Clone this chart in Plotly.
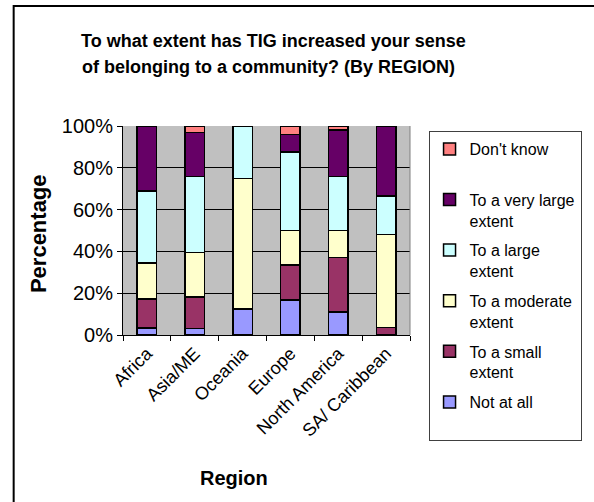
import plotly.graph_objects as go

# Survey results by region (percent of respondents)
regions = ["Africa", "Asia/ME", "Oceania", "Europe", "North America", "SA/ Caribbean"]
not_at_all = [3.4, 3.0, 12.5, 16.7, 11.1, 0.0]
small_extent = [13.8, 15.2, 0.0, 16.7, 25.9, 3.7]
moderate_extent = [17.2, 21.2, 62.5, 16.7, 13.0, 44.4]
large_extent = [34.5, 36.4, 25.0, 37.5, 25.9, 18.5]
very_large_extent = [31.0, 21.2, 0.0, 8.3, 22.2, 33.3]
dont_know = [0.0, 3.0, 0.0, 4.2, 1.9, 0.0]

y_ticks = [0, 20, 40, 60, 80, 100]
y_tick_labels = ["0%", "20%", "40%", "60%", "80%", "100%"]

series = [
    ("Not at all<br>&nbsp;", not_at_all, "#9999FF"),
    ("To a small<br>extent", small_extent, "#993366"),
    ("To a moderate<br>extent", moderate_extent, "#FFFFCC"),
    ("To a large<br>extent", large_extent, "#CCFFFF"),
    ("To a very large<br>extent", very_large_extent, "#660066"),
    ("Don't know<br>&nbsp;", dont_know, "#FF8080"),
]

FONT = "Liberation Sans, Arial, sans-serif"

fig = go.Figure()
for i, (name, vals, color) in enumerate(series):
    fig.add_trace(go.Bar(
        x=regions, y=vals, name=name, legendgroup=f"g{i}",
        legendrank=len(series) - i,  # top of the stack listed first
        marker=dict(color=color, line=dict(color="black", width=1.5)),
    ))

# plot area in pixels: x 123..417, y 126..335
L, R, T, B = 123, 417, 126, 335
W, H = 594, 502


def px(x):
    return (x - L) / (R - L)


def py(y):
    return (B - y) / (B - T)


shapes = [
    # outer chart frame
    dict(type="rect", xref="paper", yref="paper",
         x0=px(11), x1=px(620), y0=py(6), y1=py(530),
         line=dict(color="black", width=2), fillcolor="rgba(0,0,0,0)", layer="below"),
    # plot area right border
    dict(type="line", xref="paper", yref="paper",
         x0=1, x1=1, y0=0, y1=1, line=dict(color="#808080", width=1)),
]

annotations = [
    dict(text="<b>To what extent has TIG increased your sense</b>",
         x=px(277), y=py(41), xref="paper", yref="paper", showarrow=False,
         xanchor="center", yanchor="middle", font=dict(size=18, family=FONT, color="black")),
    dict(text="<b>of belonging to a community? (By REGION)</b>",
         x=px(272), y=py(67), xref="paper", yref="paper", showarrow=False,
         xanchor="center", yanchor="middle", font=dict(size=18, family=FONT, color="black")),
    dict(text="<b>Region</b>",
         x=px(237), y=py(478), xref="paper", yref="paper", showarrow=False,
         xanchor="center", yanchor="middle", font=dict(size=20, family=FONT, color="black")),
    dict(text="<b>Percentage</b>", textangle=-90,
         x=px(36), y=py(234), xref="paper", yref="paper", showarrow=False,
         xanchor="center", yanchor="middle", font=dict(size=22, family=FONT, color="black")),
]

fig.update_layout(
    width=W, height=H,
    margin=dict(l=L, r=W - R, t=T, b=H - B, pad=0),
    paper_bgcolor="white",
    plot_bgcolor="#C0C0C0",
    barmode="stack",
    bargap=0.59,
    font=dict(family=FONT, color="black"),
    showlegend=True,
    legend=dict(
        x=px(436), y=py(131), xanchor="left", yanchor="top",
        traceorder="grouped", tracegroupgap=6, valign="top",
        maxheight=330,
        bgcolor="white", bordercolor="#404040", borderwidth=1,
        font=dict(size=16, family=FONT, color="black"),
    ),
    xaxis=dict(
        type="category", tickangle=-45, tickson="boundaries",
        ticks="outside", ticklen=5, tickcolor="black",
        showline=True, linecolor="black", linewidth=1,
        showgrid=False, tickfont=dict(size=18, family=FONT, color="black"),
    ),
    yaxis=dict(
        range=[0, 100], tickmode="array", tickvals=y_ticks, ticktext=y_tick_labels,
        ticks="outside", ticklen=5, tickcolor="black",
        showline=True, linecolor="black", linewidth=1,
        showgrid=True, gridcolor="black", gridwidth=1,
        zeroline=False, tickfont=dict(size=20, family=FONT, color="black"),
    ),
    shapes=shapes,
    annotations=annotations,
)

fig.write_html("out.html")
